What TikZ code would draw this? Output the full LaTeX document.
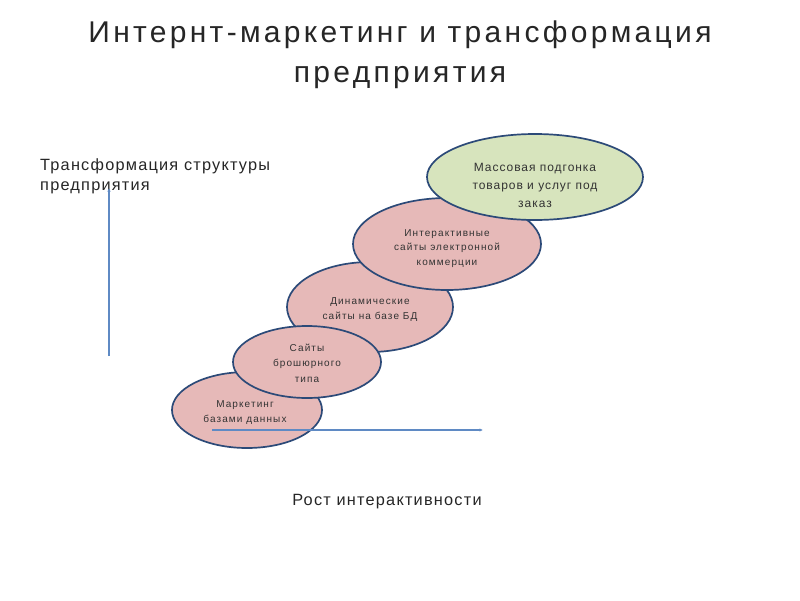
\documentclass[tikz,border=0pt]{standalone}
\usepackage{fontspec}
\setmainfont{Liberation Sans}
\usetikzlibrary{arrows.meta,shapes.geometric}
\definecolor{pinkf}{HTML}{E6B9B8}
\definecolor{greenf}{HTML}{D7E4BD}
\definecolor{edge}{HTML}{2C4A78}
\definecolor{axis}{HTML}{5F8AC4}
\begin{document}
\begin{tikzpicture}[x=1pt,y=-1pt,
  stage/.style={ellipse, draw=edge, line width=1.7pt, fill=pinkf, inner sep=0pt},
  stxt/.style={align=center, text=black!80, inner sep=0pt, font=\fontsize{10}{15}\selectfont\addfontfeature{LetterSpace=11}},
  axisline/.style={draw=axis, line width=1.3pt, -{Latex[length=3.5pt,width=3.5pt]}},
  lbl/.style={font=\fontsize{16.3}{20}\selectfont\addfontfeature{LetterSpace=7.5}, text=black!85, inner sep=0pt}]
\useasboundingbox (0,0) rectangle (800,600);
\node[font=\fontsize{30}{40}\selectfont\addfontfeature{LetterSpace=11}, align=center, text=black!85, inner sep=0pt] (title) at (400,55) {Интернт-маркетинг и трансформация\\предприятия};
\node[lbl, align=left, anchor=north west] (ylab) at (40,158) {Трансформация структуры\\предприятия};
\node[lbl] (xlab) at (387,502) {Рост интерактивности};
\node[stage, minimum width=150pt, minimum height=76pt] (n1) at (247,410) {};
\node[stxt] (t1) at (245,413) {Маркетинг\\базами данных};
\node[stage, minimum width=166pt, minimum height=90pt] (n3) at (370,307) {};
\node[stxt] (t3) at (370,310) {Динамические\\сайты на базе БД};
\node[stage, minimum width=148pt, minimum height=72pt] (n2) at (307,362) {};
\node[stxt, font=\fontsize{10}{15.5}\selectfont\addfontfeature{LetterSpace=11}] (t2) at (307,363) {Сайты\\брошюрного\\типа};
\node[stage, minimum width=188pt, minimum height=92pt] (n4) at (447,244) {};
\node[stxt, font=\fontsize{10}{14.5}\selectfont\addfontfeature{LetterSpace=11}] (t4) at (447,248.5) {Интерактивные\\сайты электронной\\коммерции};
\node[stage, fill=greenf, minimum width=216pt, minimum height=86pt] (n5) at (535,177) {};
\node[stxt, font=\fontsize{12}{18}\selectfont\addfontfeature{LetterSpace=8}] (t5) at (535,185.5) {Массовая подгонка\\товаров и услуг под\\заказ};
\coordinate (ybot) at (109,356);
\coordinate (ytop) at (109,188);
\coordinate (xl) at (212,430);
\coordinate (xr) at (483,430);
\draw[axisline] (ybot) -- (ytop);
\draw[axisline] (xl) -- (xr);
\end{tikzpicture}
\end{document}
